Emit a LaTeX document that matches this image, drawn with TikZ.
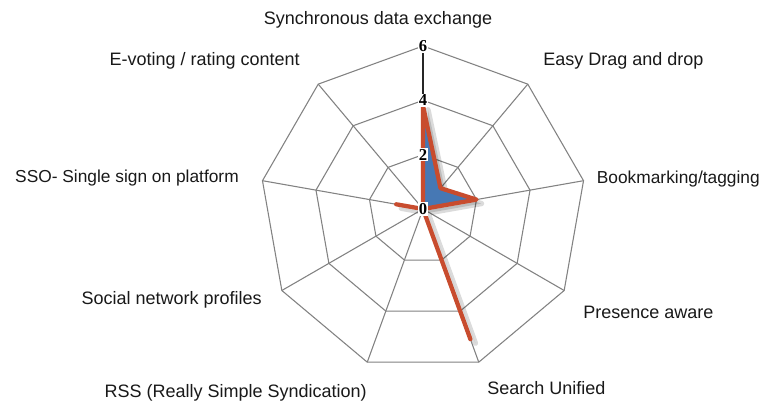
\documentclass[tikz,border=0pt]{standalone}
\usepackage{fontspec}
\setmainfont{Liberation Sans}
\newfontfamily\numfont{Liberation Serif}
\definecolor{gridgray}{RGB}{130,130,130}
\definecolor{serieblue}{RGB}{70,120,180}
\definecolor{seriered}{RGB}{200,76,46}
\begin{document}
\begin{tikzpicture}[x=0.75pt,y=0.75pt,
  axislabel/.style={font=\fontsize{13.5}{16}\selectfont, inner sep=0pt, text=black!90},
  smalllabel/.style={font=\fontsize{13}{16}\selectfont, inner sep=0pt, text=black!90},
  numlabel/.style={font=\numfont\bfseries\fontsize{12.5}{14}\selectfont, fill=white, inner sep=0.8pt},
  gridline/.style={draw=gridgray, line width=0.8pt},
  valueaxis/.style={draw=black!85, line width=0.9pt},
  seriesshape/.style={fill=serieblue, draw=seriered, line width=3.2pt, line join=round, line cap=round},
  shadowshape/.style={fill=black, draw=black, opacity=0.14, line width=4pt, line join=round}]
\useasboundingbox (0,0) rectangle (763,401);
\fill[white] (0,0) rectangle (763,401);
\coordinate (c) at (423,192);
\begin{scope}[shift={(423,192)}]
  % grid rings
  \foreach \r in {54.33,108.67,163} {
    \draw[gridline] (90:\r) \foreach \a in {50,10,-30,-70,-110,-150,170,130} { -- (\a:\r) } -- cycle;
  }
  % spokes
  \foreach \a in {50,10,-30,-70,-110,-150,170,130} {
    \draw[gridline] (0,0) -- (\a:163);
  }
  \coordinate (top) at (90:163);
  \draw[valueaxis] (0,0) -- (top);
  % shadow
  \begin{scope}[shift={(5,-4)}]
    \path[shadowshape] (90:103.2) -- (50:27.2) -- (10:54.3) -- (0,0) -- (-70:138.6) -- (0,0) -- (170:27.2) -- (0,0) -- cycle;
  \end{scope}
  % series
  \path[seriesshape] (90:103.2) -- (50:27.2) -- (10:54.3) -- (0,0) -- (-70:138.6) -- (0,0) -- (170:27.2) -- (0,0) -- cycle;
  % value labels
  \node[numlabel] (n6) at (0,163) {6};
  \node[numlabel] (n4) at (0,108.67) {4};
  \node[numlabel] (n2) at (0,54.33) {2};
  \node[numlabel] (n0) at (0,0) {0};
\end{scope}
% category labels
\node[axislabel] (l1) at (378,381) {Synchronous data exchange};
\node[axislabel, anchor=west] (l2) at (543,340) {Easy Drag and drop};
\node[smalllabel, anchor=east] (l3) at (760,222) {Bookmarking/tagging};
\node[axislabel, anchor=west] (l4) at (583,89) {Presence aware};
\node[axislabel, anchor=west] (l5) at (487,13) {Search Unified};
\node[axislabel, anchor=east] (l6) at (367,8) {RSS (Really Simple Syndication)};
\node[axislabel, anchor=east] (l7) at (262,101) {Social network profiles};
\node[smalllabel, anchor=east] (l8) at (239,223) {SSO- Single sign on platform};
\node[axislabel, anchor=east] (l9) at (300,340) {E-voting / rating content};
\end{tikzpicture}
\end{document}
